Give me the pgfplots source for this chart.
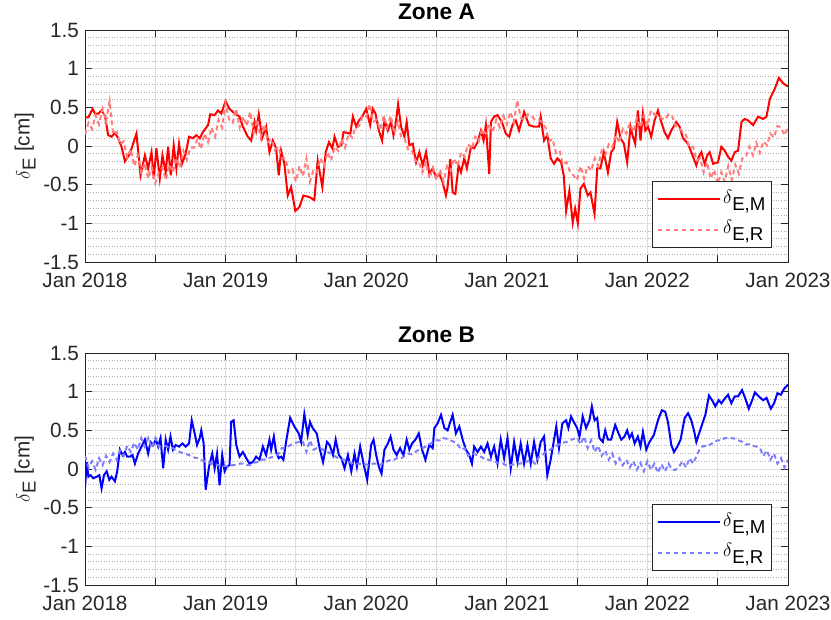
\documentclass[border=0pt]{standalone}
\usepackage{fontspec}
\setmainfont{Liberation Sans}
\usepackage{pgfplots}
\usepackage{pgfplotstable}
\pgfplotsset{compat=1.18}
\definecolor{axgray}{RGB}{38,38,38}
\definecolor{lred}{RGB}{255,125,125}
\definecolor{lblue}{RGB}{125,125,255}

\pgfplotstableread{
x y
2018.000 0.37
2018.024 0.37
2018.054 0.48
2018.071 0.42
2018.095 0.42
2018.118 0.46
2018.142 0.39
2018.165 0.14
2018.189 0.12
2018.213 0.17
2018.236 0.10
2018.260 -0.01
2018.284 -0.20
2018.319 -0.10
2018.366 0.16
2018.395 -0.38
2018.426 -0.12
2018.449 -0.29
2018.473 -0.08
2018.489 -0.42
2018.508 -0.03
2018.532 -0.42
2018.551 -0.12
2018.574 -0.34
2018.591 -0.01
2018.610 -0.38
2018.631 0.01
2018.650 -0.29
2018.669 0.03
2018.690 -0.23
2018.716 -0.10
2018.740 0.12
2018.768 0.10
2018.792 0.14
2018.816 0.10
2018.839 0.18
2018.875 0.27
2018.891 0.41
2018.922 0.40
2018.946 0.46
2018.969 0.42
2019.000 0.58
2019.028 0.48
2019.064 0.42
2019.099 0.38
2019.123 0.25
2019.158 0.12
2019.182 0.07
2019.206 0.31
2019.217 0.20
2019.236 0.41
2019.260 0.10
2019.288 0.25
2019.312 -0.08
2019.336 0.07
2019.359 -0.03
2019.378 -0.38
2019.395 -0.06
2019.418 -0.23
2019.442 -0.64
2019.466 -0.53
2019.496 -0.84
2019.525 -0.79
2019.553 -0.64
2019.596 -0.66
2019.631 -0.70
2019.655 -0.19
2019.688 -0.53
2019.712 -0.08
2019.735 0.05
2019.759 -0.03
2019.775 0.12
2019.799 -0.01
2019.823 0.01
2019.839 0.18
2019.863 0.17
2019.887 0.16
2019.905 0.38
2019.929 0.25
2019.948 0.33
2019.972 0.38
2020.000 0.48
2020.028 0.27
2020.047 0.48
2020.066 0.42
2020.090 0.20
2020.113 0.07
2020.130 0.33
2020.154 0.20
2020.177 0.31
2020.194 0.14
2020.208 0.27
2020.227 0.54
2020.248 0.25
2020.272 0.12
2020.288 0.31
2020.307 0.01
2020.331 0.03
2020.355 -0.21
2020.378 -0.08
2020.402 -0.25
2020.426 -0.08
2020.449 -0.36
2020.473 -0.29
2020.496 -0.40
2020.520 -0.36
2020.544 -0.47
2020.567 -0.64
2020.579 -0.53
2020.598 -0.17
2020.615 -0.60
2020.634 -0.62
2020.657 -0.25
2020.674 -0.34
2020.697 -0.16
2020.716 -0.29
2020.745 -0.01
2020.768 -0.03
2020.792 0.05
2020.816 0.20
2020.835 0.07
2020.851 0.27
2020.875 -0.36
2020.887 0.31
2020.910 0.38
2020.934 0.40
2020.965 0.31
2020.993 0.16
2021.017 0.12
2021.040 0.27
2021.064 0.33
2021.087 0.20
2021.123 0.44
2021.158 0.27
2021.194 0.25
2021.229 0.25
2021.241 0.38
2021.265 0.07
2021.288 0.14
2021.312 -0.16
2021.336 -0.23
2021.359 -0.16
2021.386 -0.21
2021.405 -0.38
2021.422 -0.84
2021.445 -0.58
2021.469 -0.99
2021.486 -0.81
2021.505 -1.00
2021.524 -0.55
2021.548 -0.49
2021.576 -0.64
2021.595 -0.60
2021.624 -0.88
2021.643 -0.29
2021.666 -0.29
2021.690 -0.08
2021.719 -0.34
2021.742 -0.08
2021.761 -0.03
2021.785 0.31
2021.809 0.10
2021.833 0.03
2021.856 -0.21
2021.880 0.25
2021.897 0.12
2021.913 0.03
2021.932 0.46
2021.951 0.07
2021.968 0.42
2021.985 0.20
2022.004 0.25
2022.027 0.12
2022.051 0.33
2022.075 0.46
2022.099 0.31
2022.122 0.18
2022.146 0.10
2022.170 0.20
2022.205 0.31
2022.229 0.25
2022.253 0.10
2022.289 0.03
2022.312 -0.08
2022.348 -0.25
2022.365 -0.14
2022.384 -0.08
2022.407 -0.23
2022.426 -0.12
2022.443 -0.08
2022.467 -0.23
2022.502 -0.21
2022.526 -0.01
2022.550 -0.06
2022.574 -0.14
2022.597 -0.19
2022.621 -0.08
2022.645 -0.06
2022.669 0.31
2022.692 0.35
2022.716 0.33
2022.752 0.27
2022.787 0.38
2022.823 0.35
2022.847 0.38
2022.871 0.61
2022.906 0.74
2022.935 0.88
2022.966 0.81
2023.000 0.77
}\AM

\pgfplotstableread{
x y
2018.000 0.15
2018.025 0.30
2018.050 0.22
2018.075 0.40
2018.100 0.28
2018.125 0.48
2018.150 0.32
2018.175 0.58
2018.200 0.15
2018.225 0.18
2018.250 0.02
2018.275 0.06
2018.300 -0.15
2018.325 -0.04
2018.350 -0.26
2018.375 -0.12
2018.400 -0.34
2018.425 -0.22
2018.450 -0.42
2018.475 -0.28
2018.500 -0.48
2018.525 -0.34
2018.550 -0.28
2018.575 -0.44
2018.600 -0.24
2018.625 -0.34
2018.650 -0.16
2018.675 -0.28
2018.700 -0.06
2018.725 -0.18
2018.750 -0.02
2018.775 -0.02
2018.800 0.09
2018.825 -0.04
2018.850 0.16
2018.875 0.05
2018.900 0.24
2018.925 0.12
2018.950 0.34
2018.975 0.24
2019.000 0.55
2019.025 0.34
2019.050 0.30
2019.075 0.48
2019.100 0.24
2019.125 0.38
2019.150 0.26
2019.175 0.44
2019.200 0.18
2019.225 0.34
2019.250 0.11
2019.275 0.28
2019.300 0.05
2019.325 0.09
2019.350 -0.05
2019.375 -0.01
2019.400 -0.16
2019.425 -0.16
2019.450 -0.34
2019.475 -0.30
2019.500 -0.46
2019.525 -0.26
2019.550 -0.39
2019.575 -0.16
2019.600 -0.46
2019.625 -0.31
2019.650 -0.34
2019.675 -0.16
2019.700 -0.26
2019.725 -0.08
2019.750 -0.19
2019.775 -0.01
2019.800 -0.06
2019.825 0.09
2019.850 -0.02
2019.875 0.16
2019.900 0.11
2019.925 0.24
2019.950 0.26
2019.975 0.39
2020.000 0.38
2020.025 0.54
2020.050 0.31
2020.075 0.34
2020.100 0.21
2020.125 0.39
2020.150 0.24
2020.175 0.39
2020.200 0.16
2020.225 0.32
2020.250 0.11
2020.275 0.09
2020.300 -0.06
2020.325 -0.06
2020.350 -0.19
2020.375 -0.21
2020.400 -0.34
2020.425 -0.21
2020.450 -0.42
2020.475 -0.28
2020.500 -0.44
2020.525 -0.31
2020.550 -0.46
2020.575 -0.26
2020.600 -0.32
2020.625 -0.16
2020.650 -0.26
2020.675 -0.08
2020.700 -0.14
2020.725 0.02
2020.750 -0.04
2020.775 0.12
2020.800 0.06
2020.825 0.22
2020.850 0.16
2020.875 0.29
2020.900 0.18
2020.925 0.34
2020.950 0.24
2020.975 0.39
2021.000 0.28
2021.025 0.44
2021.050 0.31
2021.075 0.59
2021.100 0.36
2021.125 0.34
2021.150 0.41
2021.175 0.39
2021.200 0.34
2021.225 0.34
2021.250 0.31
2021.275 0.24
2021.300 0.06
2021.325 0.09
2021.350 -0.09
2021.375 -0.06
2021.400 -0.24
2021.425 -0.21
2021.450 -0.34
2021.475 -0.38
2021.500 -0.44
2021.525 -0.26
2021.550 -0.42
2021.575 -0.26
2021.600 -0.32
2021.625 -0.16
2021.650 -0.26
2021.675 -0.06
2021.700 -0.12
2021.725 0.02
2021.750 -0.02
2021.775 0.14
2021.800 0.04
2021.825 0.22
2021.850 0.16
2021.875 0.29
2021.900 0.18
2021.925 0.36
2021.950 0.24
2021.975 0.39
2022.000 0.26
2022.025 0.46
2022.050 0.41
2022.075 0.39
2022.100 0.36
2022.125 0.34
2022.150 0.41
2022.175 0.39
2022.200 0.26
2022.225 0.24
2022.250 0.18
2022.275 0.14
2022.300 -0.02
2022.325 -0.01
2022.350 -0.19
2022.375 -0.16
2022.400 -0.34
2022.425 -0.21
2022.450 -0.42
2022.475 -0.31
2022.500 -0.49
2022.525 -0.34
2022.550 -0.46
2022.575 -0.26
2022.600 -0.44
2022.625 -0.24
2022.650 -0.36
2022.675 -0.16
2022.700 -0.14
2022.725 -0.01
2022.750 -0.12
2022.775 0.04
2022.800 -0.09
2022.825 0.06
2022.850 0.01
2022.875 0.16
2022.900 0.11
2022.925 0.26
2022.950 0.24
2022.975 0.14
2023.000 0.24
}\AR

\pgfplotstableread{
x y
2018.000 -0.25
2018.012 0.09
2018.024 -0.10
2018.040 -0.08
2018.059 -0.12
2018.083 -0.10
2018.102 -0.08
2018.118 -0.25
2018.135 -0.08
2018.154 -0.03
2018.173 -0.14
2018.189 -0.10
2018.213 -0.16
2018.229 -0.03
2018.248 0.25
2018.267 0.18
2018.284 0.22
2018.300 0.16
2018.319 0.16
2018.338 0.18
2018.355 0.07
2018.378 0.20
2018.402 0.29
2018.426 0.38
2018.449 0.20
2018.466 0.35
2018.485 0.31
2018.504 0.38
2018.520 0.29
2018.537 0.40
2018.556 0.01
2018.574 0.38
2018.591 0.25
2018.608 0.42
2018.626 0.25
2018.645 0.31
2018.669 0.29
2018.693 0.33
2018.716 0.29
2018.740 0.33
2018.759 0.63
2018.780 0.46
2018.797 0.31
2018.816 0.40
2018.827 0.50
2018.844 0.33
2018.858 -0.27
2018.882 0.03
2018.905 0.20
2018.922 0.01
2018.939 0.20
2018.957 -0.21
2018.976 0.18
2018.993 -0.03
2019.009 0.03
2019.028 0.05
2019.040 0.61
2019.057 0.63
2019.076 0.31
2019.099 0.16
2019.123 0.22
2019.147 0.14
2019.170 0.07
2019.194 0.09
2019.217 0.16
2019.241 0.12
2019.265 0.29
2019.288 0.18
2019.312 0.38
2019.324 0.25
2019.343 0.42
2019.359 0.22
2019.378 0.14
2019.395 0.16
2019.411 0.12
2019.430 0.35
2019.459 0.66
2019.489 0.55
2019.520 0.46
2019.537 0.35
2019.560 0.71
2019.584 0.44
2019.600 0.61
2019.619 0.53
2019.648 0.46
2019.671 0.25
2019.693 0.09
2019.721 0.35
2019.740 0.31
2019.764 0.18
2019.783 0.38
2019.806 0.18
2019.823 0.14
2019.846 0.01
2019.870 0.18
2019.894 -0.03
2019.917 0.20
2019.934 0.03
2019.957 0.29
2019.981 0.07
2020.007 -0.14
2020.035 0.31
2020.052 0.38
2020.071 0.18
2020.090 0.03
2020.109 -0.06
2020.130 0.25
2020.154 0.33
2020.173 0.42
2020.194 0.25
2020.217 0.18
2020.241 0.27
2020.265 0.18
2020.288 0.38
2020.307 0.25
2020.326 0.33
2020.350 0.38
2020.374 0.46
2020.397 0.25
2020.421 0.12
2020.449 0.31
2020.473 0.27
2020.485 0.53
2020.508 0.59
2020.532 0.70
2020.556 0.53
2020.579 0.50
2020.615 0.70
2020.638 0.46
2020.662 0.55
2020.686 0.38
2020.709 0.25
2020.733 0.18
2020.752 0.07
2020.768 0.29
2020.792 0.22
2020.816 0.29
2020.839 0.22
2020.863 0.33
2020.887 0.16
2020.910 0.29
2020.934 0.07
2020.957 0.38
2020.981 0.14
2021.005 0.40
2021.028 0.01
2021.052 0.35
2021.076 0.09
2021.099 0.33
2021.123 0.07
2021.147 0.31
2021.170 0.07
2021.194 0.35
2021.217 0.12
2021.241 0.35
2021.265 0.42
2021.288 -0.08
2021.312 0.12
2021.336 0.38
2021.352 0.55
2021.371 0.27
2021.395 0.59
2021.422 0.63
2021.438 0.53
2021.457 0.68
2021.476 0.61
2021.500 0.53
2021.517 0.42
2021.540 0.68
2021.564 0.53
2021.588 0.63
2021.605 0.81
2021.624 0.63
2021.643 0.66
2021.659 0.40
2021.683 0.35
2021.700 0.50
2021.719 0.38
2021.742 0.38
2021.771 0.57
2021.795 0.46
2021.814 0.38
2021.837 0.42
2021.856 0.50
2021.873 0.40
2021.890 0.46
2021.909 0.33
2021.932 0.42
2021.951 0.29
2021.968 0.48
2021.992 0.25
2022.015 0.35
2022.046 0.44
2022.075 0.63
2022.103 0.76
2022.127 0.74
2022.146 0.61
2022.170 0.31
2022.189 0.22
2022.213 0.29
2022.236 0.38
2022.265 0.66
2022.289 0.72
2022.312 0.63
2022.331 0.50
2022.348 0.35
2022.384 0.55
2022.412 0.70
2022.438 0.95
2022.460 0.89
2022.483 0.81
2022.507 0.89
2022.526 0.85
2022.550 0.91
2022.574 0.96
2022.597 0.85
2022.621 0.94
2022.645 0.94
2022.673 1.02
2022.697 0.91
2022.721 0.78
2022.745 0.89
2022.764 0.99
2022.792 0.94
2022.823 0.89
2022.847 0.92
2022.878 0.78
2022.901 0.85
2022.925 0.98
2022.949 0.96
2022.973 1.04
2023.000 1.09
}\BM

\pgfplotstableread{
x y
2018.000 0.17
2018.025 0.02
2018.050 0.10
2018.075 -0.01
2018.100 0.14
2018.125 0.05
2018.150 0.17
2018.175 0.09
2018.200 0.20
2018.225 0.12
2018.250 0.24
2018.275 0.17
2018.300 0.30
2018.325 0.22
2018.350 0.34
2018.375 0.25
2018.400 0.40
2018.425 0.29
2018.450 0.40
2018.475 0.27
2018.500 0.40
2018.525 0.29
2018.550 0.30
2018.575 0.30
2018.600 0.27
2018.625 0.27
2018.650 0.24
2018.675 0.22
2018.700 0.20
2018.725 0.19
2018.750 0.17
2018.775 0.15
2018.800 0.14
2018.825 0.12
2018.850 0.10
2018.875 0.09
2018.900 0.07
2018.925 0.05
2018.950 0.05
2018.975 0.03
2019.000 0.04
2019.025 0.03
2019.050 0.05
2019.075 0.05
2019.100 0.07
2019.125 0.07
2019.150 0.05
2019.175 0.05
2019.200 0.08
2019.225 0.09
2019.250 0.12
2019.275 0.12
2019.300 0.14
2019.325 0.15
2019.350 0.17
2019.375 0.19
2019.400 0.27
2019.425 0.27
2019.450 0.30
2019.475 0.32
2019.500 0.34
2019.525 0.35
2019.550 0.35
2019.575 0.22
2019.600 0.37
2019.625 0.25
2019.650 0.27
2019.675 0.27
2019.700 0.24
2019.725 0.22
2019.750 0.20
2019.775 0.17
2019.800 0.14
2019.825 0.12
2019.850 0.12
2019.875 0.09
2019.900 0.08
2019.925 0.07
2019.950 0.07
2019.975 0.05
2020.000 0.06
2020.025 0.05
2020.050 0.07
2020.075 0.07
2020.100 0.05
2020.125 0.09
2020.150 0.10
2020.175 0.12
2020.200 0.12
2020.225 0.15
2020.250 0.14
2020.275 0.17
2020.300 0.20
2020.325 0.19
2020.350 0.22
2020.375 0.25
2020.400 0.27
2020.425 0.29
2020.450 0.32
2020.475 0.35
2020.500 0.37
2020.525 0.37
2020.550 0.40
2020.575 0.39
2020.600 0.37
2020.625 0.35
2020.650 0.32
2020.675 0.25
2020.700 0.27
2020.725 0.17
2020.750 0.20
2020.775 0.19
2020.800 0.17
2020.825 0.15
2020.850 0.12
2020.875 0.12
2020.900 0.10
2020.925 0.09
2020.950 0.07
2020.975 0.07
2021.000 0.04
2021.025 0.05
2021.050 0.06
2021.075 0.07
2021.100 0.07
2021.125 0.09
2021.150 0.10
2021.175 0.12
2021.200 0.07
2021.225 0.15
2021.250 0.17
2021.275 0.22
2021.300 0.24
2021.325 0.27
2021.350 0.30
2021.375 0.32
2021.400 0.34
2021.425 0.35
2021.450 0.37
2021.475 0.39
2021.500 0.40
2021.525 0.32
2021.550 0.42
2021.575 0.27
2021.600 0.37
2021.625 0.22
2021.650 0.30
2021.675 0.17
2021.700 0.24
2021.725 0.12
2021.750 0.20
2021.775 0.07
2021.800 0.14
2021.825 0.05
2021.850 0.12
2021.875 0.02
2021.900 0.10
2021.925 -0.01
2021.950 0.08
2021.975 -0.03
2022.000 0.10
2022.025 -0.01
2022.050 0.07
2022.075 -0.05
2022.100 0.06
2022.125 -0.03
2022.150 0.07
2022.175 -0.01
2022.200 -0.01
2022.225 0.03
2022.250 0.10
2022.275 0.02
2022.300 0.14
2022.325 0.07
2022.350 0.17
2022.375 0.27
2022.400 0.30
2022.425 0.29
2022.450 0.32
2022.475 0.35
2022.500 0.37
2022.525 0.37
2022.550 0.40
2022.575 0.40
2022.600 0.40
2022.625 0.39
2022.650 0.37
2022.675 0.35
2022.700 0.32
2022.725 0.32
2022.750 0.30
2022.775 0.29
2022.800 0.27
2022.825 0.17
2022.850 0.24
2022.875 0.12
2022.900 0.20
2022.925 0.07
2022.950 0.14
2022.975 0.02
2023.000 0.12
}\BR

\pgfplotsset{
  zonestyle/.style={
    scale only axis,
    width=527.25pt, height=174pt,
    xmin=2018, xmax=2023, ymin=-1.5, ymax=1.5,
    xtick={2018,2018.5,2019,2019.5,2020,2020.5,2021,2021.5,2022,2022.5,2023},
    xticklabels={Jan 2018,,Jan 2019,,Jan 2020,,Jan 2021,,Jan 2022,,Jan 2023},
    ytick={-1.5,-1,-0.5,0,0.5,1,1.5},
    yticklabels={-1.5,-1,-0.5,0,0.5,1,1.5},
    minor ytick={-1.4,-1.3,-1.2,-1.1,-0.9,-0.8,-0.7,-0.6,-0.4,-0.3,-0.2,-0.1,0.1,0.2,0.3,0.4,0.6,0.7,0.8,0.9,1.1,1.2,1.3,1.4},
    grid=both,
    major grid style={color=black!13, line width=0.7pt},
    minor grid style={color=black!30, line width=0.5pt, dash pattern=on 0.75pt off 1.25pt},
    tick align=inside, xtick pos=both, ytick pos=both,
    major tick length=5pt, minor tick length=0pt,
    tick style={axgray, line width=0.6pt},
    axis line style={axgray, line width=0.7pt},
    ticklabel style={font=\fontsize{15.5}{18}\selectfont, text=axgray},
    xticklabel style={yshift=-5pt},
    yticklabel style={xshift=-1pt},
    title style={font=\bfseries\fontsize{17}{20}\selectfont, yshift=-2pt},
    ylabel={$\delta$\raisebox{-0.55ex}{\fontsize{14}{16}\selectfont E} [cm]},
    ylabel style={font=\fontsize{15.5}{18}\selectfont, text=axgray, yshift=-1pt},
    legend style={at={(0.977,0.060)}, anchor=south east, draw=axgray, line width=0.6pt,
      font=\fontsize{15.5}{18}\selectfont, text=black, inner xsep=3pt, inner ysep=2pt,
      nodes={text height=13pt, text depth=7pt, inner sep=1.5pt}, cells={anchor=west}},
    legend image code/.code={\draw[#1] (0pt,0pt) -- (47pt,0pt);},
  }
}

\begin{document}
\begin{tikzpicture}
\useasboundingbox (0,0) rectangle (623.25pt,464.25pt);
\begin{axis}[zonestyle, at={(63.75pt,267.75pt)}, anchor=south west, title={Zone A}]
\addplot[red, line width=1.5pt] table[x=x,y=y] {\AM};
\addlegendentry{$\delta$\raisebox{-0.65ex}{\fontsize{14}{16}\selectfont E,M}}
\addplot[lred, line width=1.5pt, dash pattern=on 3.5pt off 2.5pt] table[x=x,y=y] {\AR};
\addlegendentry{$\delta$\raisebox{-0.65ex}{\fontsize{14}{16}\selectfont E,R}}
\end{axis}
\begin{axis}[zonestyle, at={(63.75pt,25.5pt)}, anchor=south west, title={Zone B}]
\addplot[blue, line width=1.5pt] table[x=x,y=y] {\BM};
\addlegendentry{$\delta$\raisebox{-0.65ex}{\fontsize{14}{16}\selectfont E,M}}
\addplot[lblue, line width=1.5pt, dash pattern=on 3.5pt off 2.5pt] table[x=x,y=y] {\BR};
\addlegendentry{$\delta$\raisebox{-0.65ex}{\fontsize{14}{16}\selectfont E,R}}
\end{axis}
\end{tikzpicture}
\end{document}
